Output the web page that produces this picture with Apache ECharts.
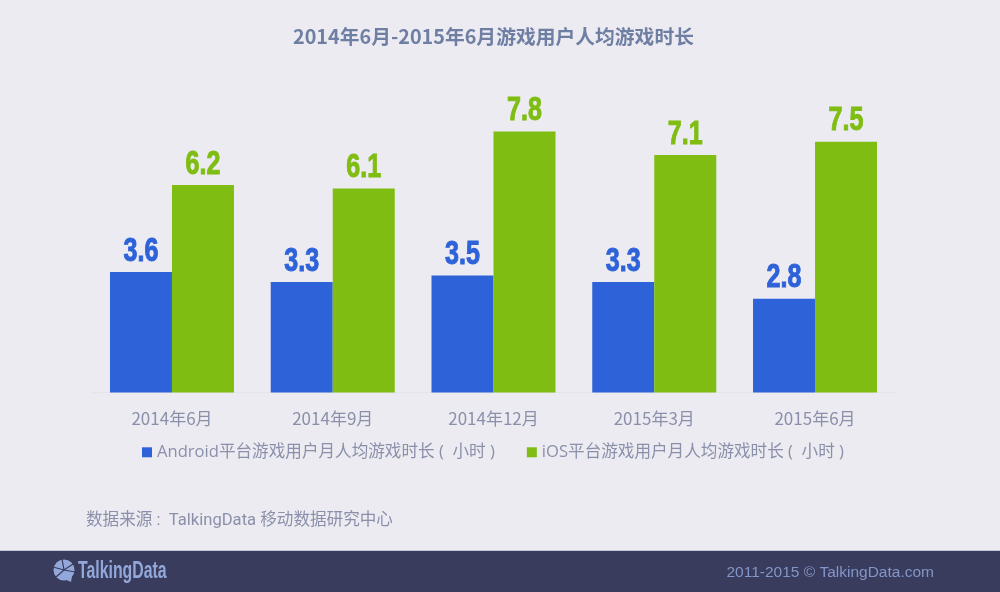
<!DOCTYPE html>
<html>
<head>
<meta charset="utf-8">
<title>游戏用户人均游戏时长</title>
<script src="https://cdn.jsdelivr.net/npm/echarts@6/dist/echarts.min.js"></script>
<style>
html, body { margin: 0; padding: 0; background: #ecebf1; }
#main { width: 1000px; height: 592px; }
</style>
</head>
<body>
<div id="main"></div>
<script>
var myChart = echarts.init(document.getElementById('main'));
var cnFont = '"Noto Sans CJK SC", "Noto Sans", sans-serif';
var latinFont = '"Open Sans", "Noto Sans CJK SC", sans-serif';
var numFont = '"Liberation Sans", sans-serif';
var barWidth = 62;

var data = {
	xAxisName: ['2014年6月', '2014年9月', '2014年12月', '2015年3月', '2015年6月'],
	yAxisName: ['Android平台游戏用户月人均游戏时长 (  小时 )', 'iOS平台游戏用户月人均游戏时长 (  小时 )'],
	yAxisData: [
		[3.6, 3.3, 3.5, 3.3, 2.8],
		[6.2, 6.1, 7.8, 7.1, 7.5]
	],
	color: ['#2e62d8', '#7fbd13']
};

//处理系列
var newSeries = [];
data.yAxisData.map(function (item, index) {
	newSeries.push({
		name: data.yAxisName[index],
		type: 'bar',
		data: item,
		barWidth: barWidth,
		barGap: 0,
		itemStyle: { color: data.color[index] }
	});
	// 数字标签要窄字体，没有现成的，用custom压扁
	newSeries.push({
		type: 'custom',
		silent: true,
		clip: false,
		z: 5,
		data: item.map(function (v, i) { return [i, v]; }),
		encode: { x: 0, y: 1 },
		renderItem: function (params, api) {
			var pos = api.coord([api.value(0), api.value(1)]);
			return {
				type: 'text',
				x: pos[0] + (index === 0 ? -barWidth / 2 : barWidth / 2),
				y: pos[1] - 4,
				scaleX: 0.76,
				style: {
					text: api.value(1).toFixed(1),
					textAlign: 'center',
					textVerticalAlign: 'bottom',
					fontFamily: numFont,
					fontWeight: 'bold',
					fontSize: 33,
					fill: data.color[index],
					stroke: data.color[index],
					lineWidth: 1
				}
			};
		}
	});
});

var option = {
	backgroundColor: '#ecebf1',
	color: data.color,
	textStyle: { fontFamily: cnFont },
	title: {
		text: '2014年6月-2015年6月游戏用户人均游戏时长',
		left: 288,
		top: 22,
		textStyle: { fontFamily: cnFont, fontSize: 19.8, fontWeight: 'bold', color: '#6f7fa3' }
	},
	legend: {
		data: data.yAxisName,
		left: 142,
		top: 444,
		padding: 0,
		icon: 'rect',
		itemWidth: 10,
		itemHeight: 10,
		itemGap: 32,
		textStyle: { fontFamily: latinFont, fontSize: 16.6, color: '#8a90aa' }
	},
	grid: { left: 91.6, right: 104.6, top: 58, height: 334.5 },
	xAxis: {
		type: 'category',
		data: data.xAxisName,
		axisTick: { show: false },
		axisLine: { lineStyle: { color: '#e5e4eb', width: 1 } },
		axisLabel: { margin: 18, fontFamily: cnFont, fontSize: 17, color: '#8a90aa' }
	},
	yAxis: {
		type: 'value',
		min: 0,
		max: 10,
		show: false
	},
	graphic: [
		{ type: 'rect', silent: true, shape: { x: 0, y: 551, width: 1000, height: 41 }, style: { fill: '#393c5c' } },
		{ type: 'rect', silent: true, shape: { x: 0, y: 550, width: 1000, height: 1 }, style: { fill: '#c4c5d2' } },
		{ type: 'text', silent: true, x: 86, y: 521, style: { text: '数据来源 :  TalkingData 移动数据研究中心', fontFamily: '"Roboto", "Noto Sans CJK SC", sans-serif', fontSize: 16.6, fill: '#8a90aa', textVerticalAlign: 'middle' } },
		{ type: 'text', silent: true, x: 934, y: 573, style: { text: '2011-2015 © TalkingData.com', textAlign: 'right', textVerticalAlign: 'middle', fontFamily: '"Liberation Sans", sans-serif', fontSize: 15.5, fill: '#8395c9' } },
		// logo
		{ type: 'circle', silent: true, shape: { cx: 64, cy: 570, r: 10.5 }, style: { fill: '#93a8da' } },
		{ type: 'polygon', silent: true, shape: { points: [[62, 578], [72, 576], [71, 582]] }, style: { fill: '#93a8da' } },
		{ type: 'line', silent: true, shape: { x1: 53, y1: 567, x2: 64, y2: 570 }, style: { stroke: '#393c5c', lineWidth: 1.2 } },
		{ type: 'line', silent: true, shape: { x1: 62, y1: 559, x2: 64, y2: 570 }, style: { stroke: '#393c5c', lineWidth: 1.2 } },
		{ type: 'line', silent: true, shape: { x1: 73, y1: 564, x2: 64, y2: 570 }, style: { stroke: '#393c5c', lineWidth: 1.2 } },
		{ type: 'line', silent: true, shape: { x1: 56, y1: 577, x2: 64, y2: 570 }, style: { stroke: '#393c5c', lineWidth: 1.2 } },
		{ type: 'line', silent: true, shape: { x1: 75, y1: 572, x2: 64, y2: 570 }, style: { stroke: '#393c5c', lineWidth: 1.2 } },
		{ type: 'text', silent: true, x: 78, y: 571, scaleX: 0.66, style: { text: 'TalkingData', textVerticalAlign: 'middle', fontFamily: numFont, fontWeight: 'bold', fontSize: 24, fill: '#93a8da' } }
	],
	series: newSeries
};

myChart.setOption(option);
</script>
</body>
</html>
